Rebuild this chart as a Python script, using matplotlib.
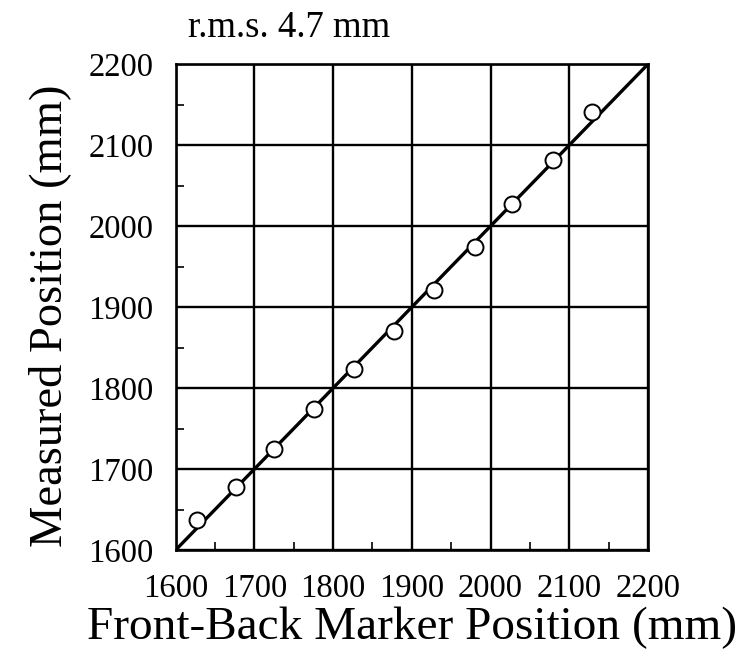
import matplotlib
matplotlib.use("Agg")
import matplotlib.pyplot as plt
from matplotlib.ticker import MultipleLocator

plt.rcParams['font.family'] = ['Liberation Serif', 'DejaVu Serif']

# Data
marker_x = [1627, 1677, 1725, 1776, 1826, 1878, 1928, 1980, 2027, 2079, 2129]
measured_y = [1637, 1678, 1725, 1774, 1824, 1870, 1921, 1974, 2027, 2081, 2141]
line_x = [1600, 2200]
line_y = [1600, 2200]
ticks = [1600, 1700, 1800, 1900, 2000, 2100, 2200]
annotation = "r.m.s. 4.7 mm"

fig = plt.figure(figsize=(7.44, 6.58), dpi=100)
ax = fig.add_axes([0.236, 0.164, 0.635, 0.7386])

ax.plot(line_x, line_y, color='black', lw=2.4, zorder=3)
ax.plot(marker_x, measured_y, 'o', ms=11.5, mfc='white', mec='black', mew=1.4, zorder=4)

ax.set_xlim(1600, 2200)
ax.set_ylim(1600, 2200)
ax.set_xticks(ticks)
ax.set_yticks(ticks)
ax.xaxis.set_minor_locator(MultipleLocator(50))
ax.yaxis.set_minor_locator(MultipleLocator(50))
ax.grid(True, which='major', color='black', lw=1.7)
ax.tick_params(which='major', length=0, labelsize=23.5)
ax.tick_params(axis='x', which='major', pad=17)
ax.tick_params(axis='y', which='major', pad=16)
ax.tick_params(which='minor', direction='in', length=6, width=1.2, top=False, right=False)
for s in ax.spines.values():
    s.set_linewidth(1.9)

ax.set_xlabel("Front-Back Marker Position (mm)", fontsize=34, labelpad=2)
ax.set_ylabel("Measured Position (mm)", fontsize=33.5)
ax.yaxis.set_label_coords(-0.222, 0.483)

fig.text(188 / 744, 1 - 37 / 658, annotation, fontsize=26.5, ha='left', va='baseline')

fig.savefig("out.png", dpi=100)
